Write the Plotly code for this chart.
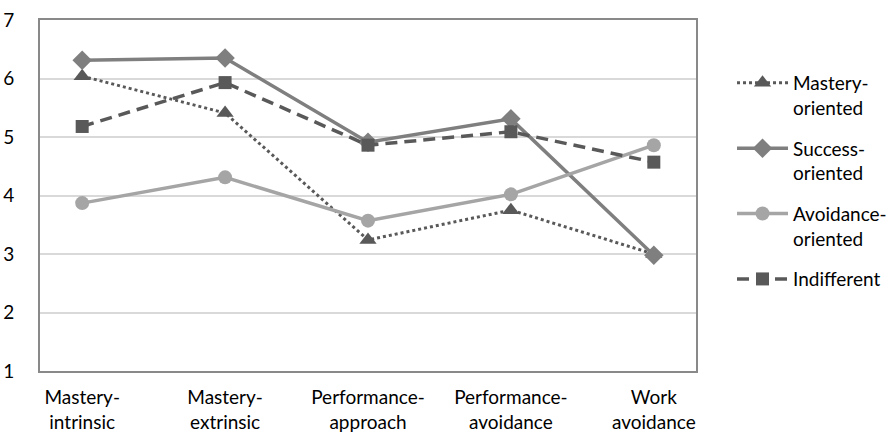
import plotly.graph_objects as go

categories = ["Mastery-<br>intrinsic", "Mastery-<br>extrinsic", "Performance-<br>approach",
              "Performance-<br>avoidance", "Work<br>avoidance"]
mastery_oriented = [6.04, 5.41, 3.24, 3.75, 3.00]
success_oriented = [6.31, 6.35, 4.91, 5.31, 2.98]
avoidance_oriented = [3.87, 4.31, 3.57, 4.02, 4.86]
indifferent = [5.18, 5.93, 4.86, 5.09, 4.57]
y_ticks = [1, 2, 3, 4, 5, 6, 7]

FONT = "Lato"
FS = 19

fig = go.Figure()
fig.add_trace(go.Scatter(
    x=categories, y=mastery_oriented, name="Mastery-<br>oriented", mode="lines+markers",
    legendgroup="g1",
    line=dict(color="#595959", width=3, dash="dot"),
    marker=dict(symbol="triangle-up", size=15, color="#595959")))
fig.add_trace(go.Scatter(
    x=categories, y=success_oriented, name="Success-<br>oriented", mode="lines+markers",
    legendgroup="g2",
    line=dict(color="#7f7f7f", width=3.5),
    marker=dict(symbol="diamond", size=15, color="#7f7f7f")))
fig.add_trace(go.Scatter(
    x=categories, y=avoidance_oriented, name="Avoidance-<br>oriented", mode="lines+markers",
    legendgroup="g3",
    line=dict(color="#a5a5a5", width=3.5),
    marker=dict(symbol="circle", size=14, color="#a5a5a5")))
fig.add_trace(go.Scatter(
    x=categories, y=indifferent, name="Indifferent", mode="lines+markers",
    legendgroup="g4",
    line=dict(color="#595959", width=3.5, dash="12px,7px"),
    marker=dict(symbol="square", size=13, color="#595959")))

fig.update_layout(
    width=891, height=433,
    margin=dict(l=40, r=195, t=20, b=62, autoexpand=False),
    paper_bgcolor="white", plot_bgcolor="white",
    font=dict(family=FONT, size=FS, color="#000000"),
    legend=dict(x=1.0549, xanchor="left", y=0.875, yanchor="top", valign="top",
                font=dict(family=FONT, size=FS), tracegroupgap=13, itemwidth=51,
                bgcolor="rgba(0,0,0,0)"),
    xaxis=dict(showgrid=False, showline=True, linecolor="#898989", linewidth=2, mirror=True,
               ticks="", ticklabelstandoff=8, tickfont=dict(size=FS), fixedrange=True,
               automargin=False),
    yaxis=dict(range=[1, 7], tickvals=y_ticks, showgrid=True, gridcolor="#d9d9d9", gridwidth=1.5,
               showline=True, linecolor="#898989", linewidth=2, mirror=True,
               ticks="", ticklabelstandoff=20, tickfont=dict(size=FS), zeroline=False,
               automargin=False),
)

fig.write_html("out.html", config={"displayModeBar": False},
               post_script="document.body.style.margin='0';document.body.style.overflow='hidden';")
